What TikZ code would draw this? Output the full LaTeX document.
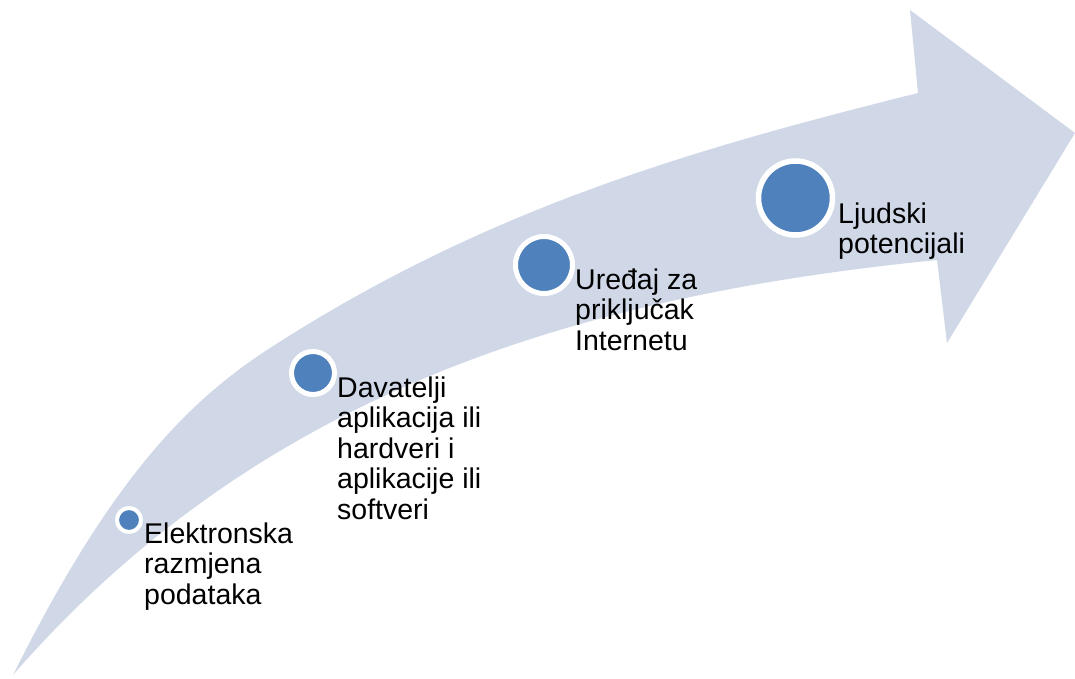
\documentclass[tikz,border=0pt]{standalone}
\usepackage{fontspec}
\setmainfont{Liberation Sans}
\definecolor{band}{HTML}{D0D8E8}
\definecolor{dot}{HTML}{4F81BD}
\newcommand{\stack}[1]{\vtop{\baselineskip=30.5pt\halign{##\hfil\cr#1\crcr}}}
\tikzset{
  dotnode/.style={circle, fill=dot, draw=white, inner sep=0pt},
  lbl/.style={anchor=base west, inner sep=0pt, font=\fontsize{28.5}{30.5}\selectfont}
}
\begin{document}
\begin{tikzpicture}[x=1pt,y=-1pt]
\useasboundingbox (0,0) rectangle (1075,679);
\fill[band] (13,675) .. controls (103,495) and (177,408.5) .. (267,350)
  .. controls (487,207) and (698,148) .. (918,93)
  -- (910,10) -- (1075,133) -- (947,343) -- (937,260)
  .. controls (587,295) and (263,387.5) .. (13,675) -- cycle;
\node[dotnode, line width=4pt, minimum size=24pt] (c1) at (129,520) {};
\node[dotnode, line width=5pt, minimum size=43pt] (c2) at (313,373) {};
\node[dotnode, line width=5pt, minimum size=57pt] (c3) at (544,265) {};
\node[dotnode, line width=5.5pt, minimum size=74pt] (c4) at (795.5,198) {};
\node[lbl] (t1) at (144,543) {\stack{Elektronska\cr razmjena\cr podataka}};
\node[lbl] (t2) at (337,397) {\stack{Davatelji\cr aplikacija ili\cr hardveri i\cr aplikacije ili\cr softveri}};
\node[lbl] (t3) at (575,289) {\stack{Uređaj za\cr priključak\cr Internetu}};
\node[lbl] (t4) at (838,223) {\stack{Ljudski\cr potencijali}};
\end{tikzpicture}
\end{document}
